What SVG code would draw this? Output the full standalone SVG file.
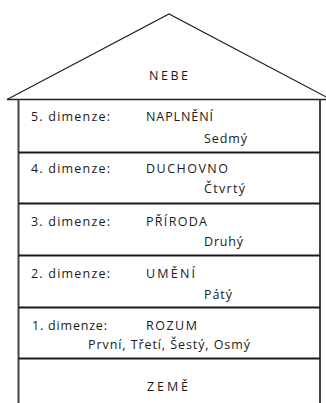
<svg xmlns="http://www.w3.org/2000/svg" width="326" height="403" viewBox="0 0 326 403">
<style>
text{font-family:"Open Sans","Liberation Sans",sans-serif;font-size:12.5px;fill:#1a1a1a}
.c{text-anchor:middle}
.roof{fill:#fff;stroke:#222;stroke-width:1.2}
.wall{stroke:#444;stroke-width:2;fill:none}
.div{stroke:#1a1a1a;stroke-width:2}
</style>
<rect width="326" height="403" fill="#fff"/>
<g id="nebe">
<polygon class="roof" points="7,99.5 169,14 331,99.5"/>
<line x1="7" y1="99.5" x2="326" y2="99.5" stroke="#222" stroke-width="1.5"/>
<text class="c" x="168.5" y="79.5" textLength="39" lengthAdjust="spacing">NEBE</text>
</g>
<g id="walls">
<line class="wall" x1="18.5" y1="99.5" x2="18.5" y2="403"/>
<line class="wall" x1="320" y1="99.5" x2="320" y2="403"/>
</g>
<g id="dim5">
<text x="31" y="120.5" textLength="79" lengthAdjust="spacing">5. dimenze:</text>
<text x="146" y="120.5" textLength="67" lengthAdjust="spacing">NAPLNĚNÍ</text>
<text x="204" y="143" textLength="43" lengthAdjust="spacing">Sedmý</text>
<line class="div" x1="18.5" y1="152.5" x2="320" y2="152.5"/>
</g>
<g id="dim4">
<text x="31" y="172.5" textLength="79" lengthAdjust="spacing">4. dimenze:</text>
<text x="146" y="172.5" textLength="82" lengthAdjust="spacing">DUCHOVNO</text>
<text x="204" y="193" textLength="41" lengthAdjust="spacing">Čtvrtý</text>
<line class="div" x1="18.5" y1="203.5" x2="320" y2="203.5"/>
</g>
<g id="dim3">
<text x="31" y="225.5" textLength="79" lengthAdjust="spacing">3. dimenze:</text>
<text x="146" y="225.5" textLength="61" lengthAdjust="spacing">PŘÍRODA</text>
<text x="204" y="245.5" textLength="39" lengthAdjust="spacing">Druhý</text>
<line class="div" x1="18.5" y1="255.5" x2="320" y2="255.5"/>
</g>
<g id="dim2">
<text x="31" y="277.5" textLength="79" lengthAdjust="spacing">2. dimenze:</text>
<text x="146" y="277.5" textLength="49" lengthAdjust="spacing">UMĚNÍ</text>
<text x="204" y="298.5" textLength="28" lengthAdjust="spacing">Pátý</text>
<line class="div" x1="18.5" y1="307.5" x2="320" y2="307.5"/>
</g>
<g id="dim1">
<text x="32" y="329.5" textLength="75" lengthAdjust="spacing">1. dimenze:</text>
<text x="146" y="329.5" textLength="51" lengthAdjust="spacing">ROZUM</text>
<text x="88" y="348.5" textLength="162" lengthAdjust="spacing">První, Třetí, Šestý, Osmý</text>
<line class="div" x1="18.5" y1="358.5" x2="320" y2="358.5" stroke-width="3"/>
</g>
<g id="zeme">
<text class="c" x="167.5" y="390.5" textLength="41" lengthAdjust="spacing">ZEMĚ</text>
</g>
</svg>
